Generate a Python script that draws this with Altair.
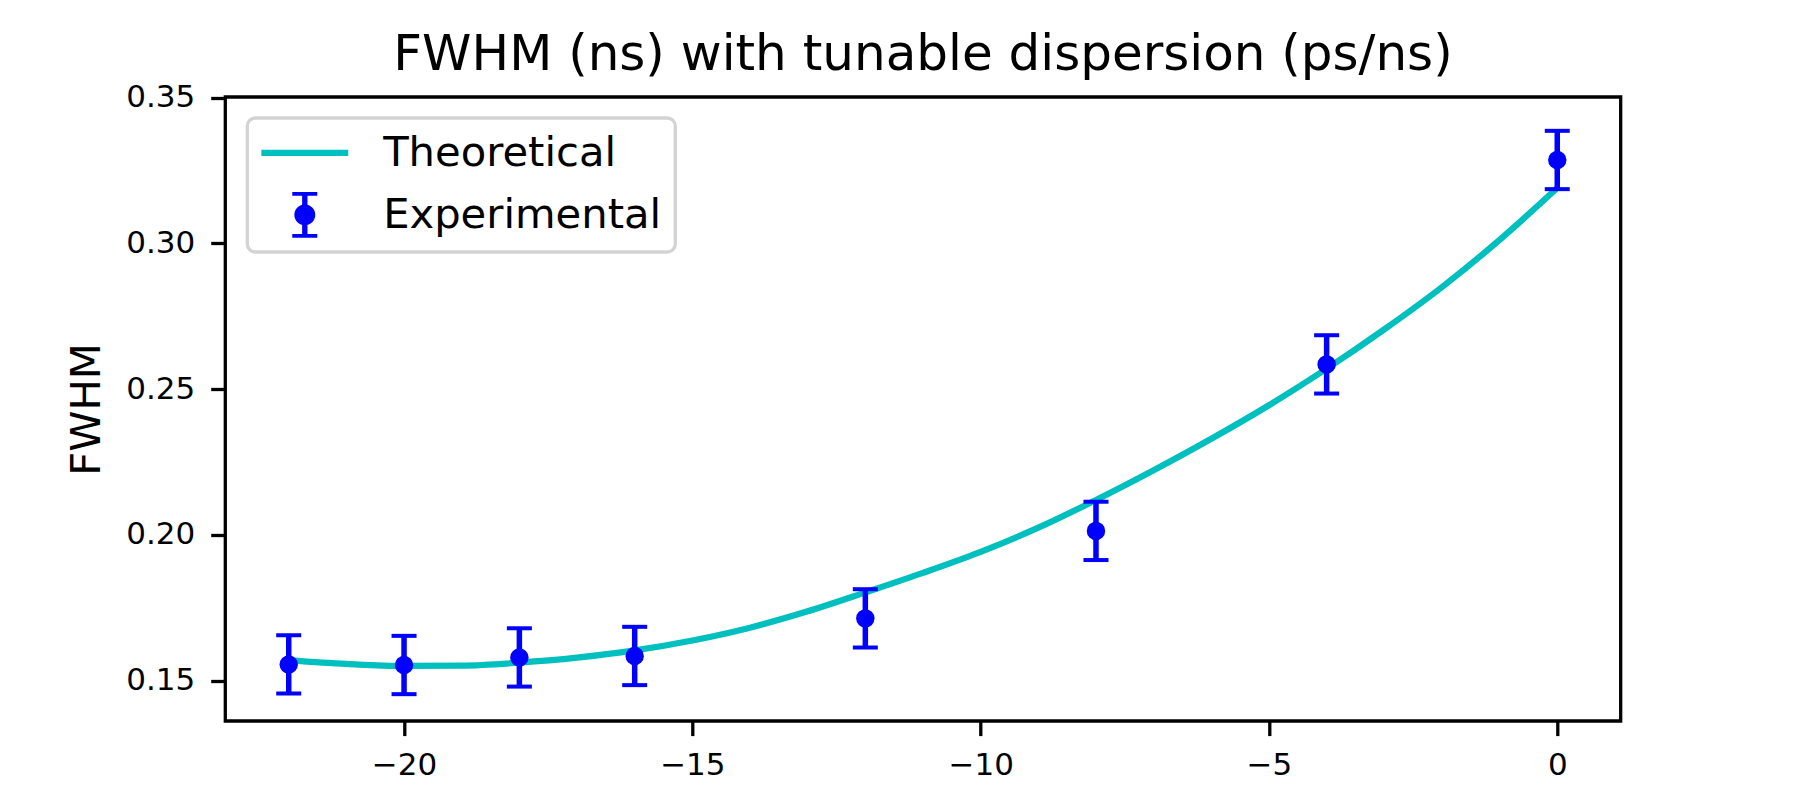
import math
import altair as alt
import pandas as pd

FONT = "DejaVu Sans"

# ---- data ----
disp_exp = [-22, -20, -18, -16, -12, -8, -4, 0]
fwhm_exp = [0.1556, 0.1554, 0.1580, 0.1585, 0.1714, 0.2014, 0.2585, 0.3286]
fwhm_err = [0.0100, 0.0100, 0.0100, 0.0100, 0.0100, 0.0100, 0.0100, 0.0100]

disp_theory = [-22, -21, -20, -19, -18, -17, -16, -15, -14, -13, -12, -11,
               -10, -9, -8, -7, -6, -5, -4, -3, -2, -1, 0]
fwhm_theory = [0.1570, 0.1558, 0.1551, 0.1552, 0.1562, 0.1579, 0.1604, 0.1638,
               0.1682, 0.1738, 0.1803, 0.1870, 0.1942, 0.2025, 0.2120, 0.2222,
               0.2330, 0.2445, 0.2570, 0.2705, 0.2850, 0.3012, 0.3190]

legend_labels = ["Theoretical", "Experimental"]
x_ticks = [-20, -15, -10, -5, 0]
y_ticks = [0.15, 0.20, 0.25, 0.30, 0.35]

theory_df = pd.DataFrame({"dispersion": disp_theory, "fwhm": fwhm_theory})
exp_df = pd.DataFrame({"dispersion": disp_exp, "fwhm": fwhm_exp, "err": fwhm_err})
exp_df["low"] = exp_df["fwhm"] - exp_df["err"]
exp_df["high"] = exp_df["fwhm"] + exp_df["err"]
exp_df["series"] = legend_labels[1]

# ---- legend symbol shapes (unit square paths) ----
line_path = "M-2.12,-0.15 L2.12,-0.15 L2.12,0.15 L-2.12,0.15 Z"
circ = " ".join(
    ("M" if k == 0 else "L")
    + f"{0.51 * math.cos(2 * math.pi * k / 32):.4f},{0.51 * math.sin(2 * math.pi * k / 32):.4f}"
    for k in range(32)
) + " Z"
err_path = (
    "M-0.61,-1.12 L0.61,-1.12 L0.61,-0.93 L-0.61,-0.93 Z "
    "M-0.61,0.93 L0.61,0.93 L0.61,1.12 L-0.61,1.12 Z "
    "M-0.13,-1.0 L0.13,-1.0 L0.13,1.0 L-0.13,1.0 Z " + circ
)

x_scale = alt.Scale(domain=[-23.1, 1.1], nice=False, zero=False)
y_scale = alt.Scale(domain=[0.1362, 0.3502], nice=False, zero=False)

x_axis = alt.Axis(values=x_ticks, title=None, grid=False, domain=False,
                  tickSize=14.6, tickWidth=3.3, tickColor="black",
                  labelFontSize=31, labelFont=FONT, labelColor="black",
                  labelPadding=15, labelFlush=False, labelOverlap=False)
y_axis = alt.Axis(values=y_ticks, format=".2f", title="FWHM",
                  titleFontSize=41.7, titleFont=FONT, titleFontWeight="normal",
                  titleColor="black", titleX=-126, titleY=312, titleAngle=270,
                  titleAlign="center", titleBaseline="alphabetic",
                  grid=False, domain=False,
                  tickSize=14.6, tickWidth=3.3, tickColor="black",
                  labelFontSize=31, labelFont=FONT, labelColor="black",
                  labelPadding=16, labelFlush=False, labelOverlap=False)

X = alt.X("dispersion:Q", scale=x_scale, axis=x_axis)

line = alt.Chart(theory_df).mark_line(
    color="#00bfbf", strokeWidth=6.25, interpolate="monotone"
).encode(x=X, y=alt.Y("fwhm:Q", scale=y_scale, axis=y_axis))

bars = alt.Chart(exp_df).mark_rule(color="#0000ff", strokeWidth=5.5).encode(
    x=X, y=alt.Y("low:Q", scale=y_scale), y2="high:Q")

caps_low = alt.Chart(exp_df).mark_tick(
    orient="horizontal", size=25, thickness=4, color="#0000ff", opacity=1
).encode(x=X, y=alt.Y("low:Q", scale=y_scale))

caps_high = alt.Chart(exp_df).mark_tick(
    orient="horizontal", size=25, thickness=4, color="#0000ff", opacity=1
).encode(x=X, y=alt.Y("high:Q", scale=y_scale))

points = alt.Chart(exp_df).mark_circle(size=340, color="#0000ff", opacity=1).encode(
    x=X, y=alt.Y("fwhm:Q", scale=y_scale))

legend_props = dict(
    orient="none", legendX=22, legendY=21, direction="vertical", title=None,
    padding=14, fillColor="white", strokeColor="#d3d3d3", cornerRadius=8,
    symbolSize=1681, symbolOffset=22.65, labelOffset=57.5,
    labelFontSize=41.7, labelFont=FONT, labelColor="black", labelLimit=600,
    rowPadding=16, symbolOpacity=1, symbolStrokeWidth=0,
)

legend_layer = alt.Chart(exp_df).mark_point(filled=True, opacity=0).encode(
    x=X,
    y=alt.Y("fwhm:Q", scale=y_scale),
    color=alt.Color("series:N",
                    scale=alt.Scale(domain=legend_labels, range=["#00bfbf", "#0000ff"]),
                    legend=alt.Legend(**legend_props)),
    shape=alt.Shape("series:N",
                    scale=alt.Scale(domain=legend_labels, range=[line_path, err_path]),
                    legend=alt.Legend(**legend_props)),
)

chart = alt.layer(line, bars, caps_low, caps_high, points, legend_layer).properties(
    width=1395.4,
    height=624,
    title=alt.TitleParams(
        text="FWHM (ns) with tunable dispersion (ps/ns)", fontSize=50, font=FONT,
        fontWeight="normal", color="black", anchor="middle", frame="group",
        offset=25, dy=63, baseline="alphabetic"),
    autosize=alt.AutoSizeParams(type="none"),
    padding={"left": 217.3, "top": 89, "right": 160, "bottom": 70},
).configure_view(stroke="black", strokeWidth=3.3).configure_legend(strokeWidth=3.3)

chart.save("out.html", embed_options={"renderer": "svg", "actions": False})
